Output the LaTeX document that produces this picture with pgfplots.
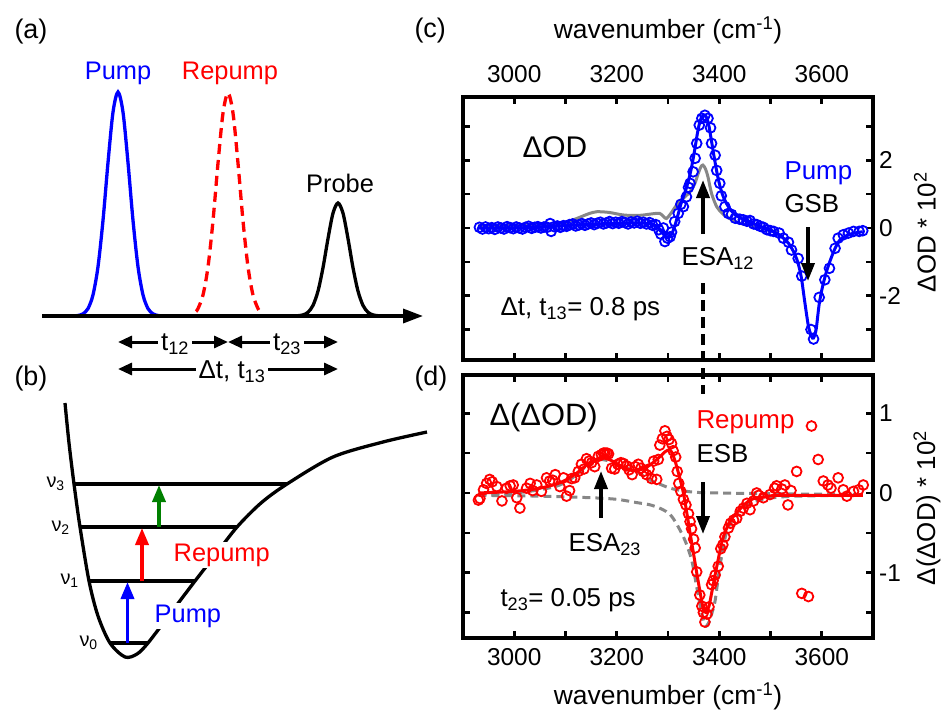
\documentclass[border=0pt]{standalone}
\usepackage{fontspec}
\setmainfont{Liberation Sans}
\usepackage{pgfplots}
\pgfplotsset{compat=1.18}
\usetikzlibrary{arrows.meta}
\definecolor{myblue}{RGB}{0,0,255}
\definecolor{myred}{RGB}{255,0,0}
\definecolor{mygreen}{RGB}{0,128,0}
\definecolor{mygray}{RGB}{135,135,135}
\newcommand\fs[1]{\fontsize{#1}{#1}\selectfont}
\pgfplotsset{
  panel/.style={scale only axis, width=410bp, height=263bp, anchor=south west,
    xmin=2900, xmax=3700,
    axis line style={line width=3.2bp},
    tick style={black, line width=2.6bp},
    tick align=inside, major tick length=7bp, minor tick length=7bp,
    xtick={3000,3200,3400,3600}, minor xtick={3100,3300,3500},
    xtick pos=both, ytick pos=both, yticklabel pos=right,
    yticklabel shift=6bp,
    xticklabel style={font=\fs{24.5}, inner sep=0pt},
    yticklabel style={font=\fs{24.5}, inner sep=0pt, anchor=west},
    /pgf/number format/1000 sep={},
    /pgf/number format/assume math mode=true},
  dat/.style={only marks, mark=o, mark size=4.9bp, mark options={line width=1.8bp}},
}
\tikzset{arr/.style={line width=3.6bp, -{Triangle[length=18bp,width=13bp]}}}
\begin{document}
\begin{tikzpicture}
% ---------- schematic panels (a) and (b)
\begin{axis}[at={(0bp,-711bp)}, anchor=south west, scale only axis, width=440bp, height=711bp,
  xmin=0, xmax=440, ymin=-711, ymax=0, hide axis, clip=false]
\addplot[myblue, line width=3.3bp, smooth] coordinates {(73,-316) (78,-315.5) (83,-313.8) (88,-308.6) (93,-294.9) (98,-266.7) (103,-220.4) (108,-162.6) (113,-112.2) (118,-92) (123,-112.2) (128,-162.6) (133,-220.4) (138,-266.7) (143,-294.9) (148,-308.6) (153,-313.8) (158,-315.5) (163,-316)};
\addplot[myred, line width=3.3bp, dash pattern=on 10bp off 6bp, smooth] coordinates {(196,-311.4) (198,-308.6) (203,-295) (208,-266.9) (213,-220.8) (218,-163.2) (223,-113.1) (228,-93) (233,-113.1) (238,-163.2) (243,-220.8) (248,-266.9) (253,-295) (258,-308.6) (260,-311.4)};
\addplot[black, line width=3.3bp, smooth] coordinates {(293,-316) (298,-315.7) (303,-314.9) (308,-312.3) (313,-305.4) (318,-291.1) (323,-267.7) (328,-238.6) (333,-213.2) (338,-203) (343,-213.2) (348,-238.6) (353,-267.7) (358,-291.1) (363,-305.4) (368,-312.3) (373,-314.9) (378,-315.7) (383,-316)};
\draw[myblue, line width=1bp] (310,-314) -- (364,-314);
\draw[line width=3.4bp, -{Triangle[length=20bp,width=14bp]}] (42,-316) -- (423,-316);
\node[myblue, font=\fs{25.5}, anchor=base] at (118,-80) {Pump};
\node[myred, font=\fs{25.5}, anchor=base] at (230,-80) {Repump};
\node[black, font=\fs{25.5}, anchor=base] at (340,-192) {Probe};
\draw[line width=3bp, {Triangle[length=14bp,width=12bp]}-{Triangle[length=14bp,width=12bp]}] (118,-342) -- (228,-342);
\draw[line width=3bp, {Triangle[length=14bp,width=12bp]}-{Triangle[length=14bp,width=12bp]}] (228,-342) -- (338,-342);
\draw[line width=3bp, {Triangle[length=14bp,width=12bp]}-{Triangle[length=14bp,width=12bp]}] (118,-369) -- (338,-369);
\node[fill=white, inner sep=3bp, font=\fs{26}, anchor=base] at (175,-350) {t\textsubscript{12}};
\node[fill=white, inner sep=3bp, font=\fs{26}, anchor=base] at (287,-350) {t\textsubscript{23}};
\node[fill=white, inner sep=3bp, font=\fs{26}, anchor=base] at (232,-378) {Δt, t\textsubscript{13}};
\node[font=\fs{27}, anchor=base west] at (11,-38.5) {(a)};
\node[font=\fs{27}, anchor=base west] at (11,-385) {(b)};
% potential
\addplot[black, line width=3.3bp, smooth] coordinates {(65,-403) (69,-443) (74,-484) (80,-527) (89,-581) (98,-616) (110,-643) (125,-657) (137,-654) (148,-643) (170,-614) (195,-581) (216,-554) (237,-527) (261,-503) (287,-484) (333,-457) (383,-442) (427,-432)};
\draw[line width=3.3bp] (110,-643) -- (148,-643);
\draw[line width=3.3bp] (89,-581) -- (195,-581);
\draw[line width=3.3bp] (80,-527) -- (237,-527);
\draw[line width=3.3bp] (74,-484) -- (287,-484);
\draw[myblue, line width=3.6bp, -{Triangle[length=17bp,width=13bp]}] (127.5,-643) -- (127.5,-582);
\draw[myred, line width=3.6bp, -{Triangle[length=17bp,width=13bp]}] (142,-581) -- (142,-528);
\draw[mygreen, line width=3.6bp, -{Triangle[length=17bp,width=13bp]}] (159,-527) -- (159,-485);
\node[myblue, fill=white, inner sep=1.5bp, font=\fs{25.5}, anchor=base west] at (153,-622) {Pump};
\node[myred, fill=white, inner sep=1.5bp, font=\fs{25.5}, anchor=base west] at (172,-561) {Repump};
\node[font=\fs{20}, anchor=base west] at (43,-487) {ν\textsubscript{3}};
\node[font=\fs{20}, anchor=base west] at (48,-531) {ν\textsubscript{2}};
\node[font=\fs{20}, anchor=base west] at (57,-584) {ν\textsubscript{1}};
\node[font=\fs{20}, anchor=base west] at (76,-646) {ν\textsubscript{0}};
\end{axis}
% ---------- panel (c)
\begin{axis}[panel, at={(463bp,-360bp)}, ymin=-3.9, ymax=3.87,
  ytick={-2,0,2}, minor ytick={-3,-1,1,3},
  xticklabel pos=upper, xticklabel shift=14bp, xticklabel style={anchor=south}]
\addplot[mygray, line width=3bp, smooth] coordinates {(2930,0.07) (3050,0.08) (3090,0.12) (3120,0.27) (3145,0.42) (3161,0.48) (3185,0.46) (3210,0.39) (3230,0.37) (3250,0.38) (3270,0.42) (3284,0.43) (3292,0.33) (3297,0.28) (3305,0.42) (3317,0.68) (3330,0.88) (3343,1.07) (3352,1.3) (3359,1.61) (3364,1.8) (3368,1.86) (3373,1.75) (3378,1.51) (3385,1.02) (3395,0.63) (3405,0.45) (3414,0.33) (3440,0.14) (3473,0.04) (3495,-0.06) (3515,-0.12)};
\addplot[dat, myblue] coordinates {(2932,0.02) (2938,-0.03) (2944,0.03) (2950,-0.02) (2956,0.01) (2962,-0.04) (2968,0.03) (2974,0.00) (2980,-0.03) (2986,0.04) (2992,0.01) (2998,-0.02) (3004,0.03) (3010,0.00) (3016,-0.03) (3022,0.02) (3028,0.05) (3034,-0.01) (3040,0.02) (3046,0.04) (3052,0.00) (3058,0.03) (3064,0.02) (3070,0.13) (3072,-0.10) (3078,0.04) (3084,0.06) (3090,0.02) (3096,0.07) (3102,0.05) (3108,0.10) (3114,0.12) (3120,0.06) (3126,0.09) (3132,0.13) (3138,0.08) (3144,0.12) (3150,0.15) (3156,0.10) (3162,0.14) (3168,0.17) (3174,0.12) (3180,0.15) (3186,0.19) (3192,0.13) (3198,0.17) (3204,0.14) (3210,0.19) (3216,0.16) (3222,0.12) (3228,0.18) (3234,0.15) (3240,0.20) (3246,0.14) (3252,0.17) (3258,0.12) (3264,0.16) (3270,0.08) (3276,0.10) (3282,-0.05) (3286,-0.18) (3291,0.00) (3294,-0.40) (3299,-0.30) (3304,-0.26) (3307,-0.12) (3313,0.19) (3320,0.43) (3325,0.70) (3330,0.63) (3336,0.92) (3340,1.20) (3343,1.32) (3349,1.66) (3353,2.06) (3356,2.50) (3361,3.04) (3366,3.24) (3372,3.33) (3378,3.24) (3383,2.96) (3385,2.50) (3392,2.15) (3395,1.70) (3401,1.32) (3404,0.95) (3411,0.63) (3418,0.43) (3424,0.40) (3431,0.29) (3440,0.26) (3447,0.24) (3454,0.20) (3460,0.22) (3467,0.12) (3473,0.10) (3480,0.05) (3486,0.02) (3493,-0.05) (3500,-0.08) (3506,-0.10) (3517,-0.15) (3525,-0.30) (3535,-0.42) (3541,-0.65) (3554,-0.90) (3561,-1.42) (3579,-3.00) (3584,-3.28) (3595,-2.05) (3606,-1.53) (3615,-1.19) (3626,-0.60) (3632,-0.30) (3642,-0.20) (3652,-0.15) (3662,-0.10) (3673,-0.10) (3680,-0.08)};
\addplot[myblue, line width=3bp, smooth] coordinates {(2930,0.0) (3000,0.0) (3060,0.03) (3100,0.07) (3150,0.11) (3200,0.14) (3240,0.15) (3262,0.13) (3276,0.07) (3286,-0.08) (3295,-0.25) (3302,-0.28) (3308,-0.15) (3314,0.1) (3320,0.42) (3326,0.75) (3333,1.05) (3340,1.4) (3346,1.8) (3352,2.3) (3358,2.85) (3363,3.18) (3368,3.32) (3374,3.3) (3379,3.08) (3384,2.65) (3390,2.1) (3396,1.6) (3402,1.2) (3408,0.92) (3415,0.7) (3423,0.52) (3432,0.38) (3445,0.27) (3460,0.17) (3473,0.09) (3486,0.01) (3500,-0.07) (3514,-0.17) (3525,-0.3) (3535,-0.45) (3545,-0.7) (3553,-1.0) (3560,-1.45) (3567,-2.2) (3574,-2.9) (3580,-3.2) (3584,-3.25) (3589,-3.0) (3595,-2.25) (3602,-1.7) (3610,-1.25) (3618,-0.9) (3626,-0.6) (3634,-0.38) (3645,-0.25) (3660,-0.16) (3680,-0.11)};
\end{axis}
% ---------- panel (d)
\begin{axis}[panel, at={(463bp,-638bp)}, ymin=-1.82, ymax=1.48,
  ytick={-1,0,1}, minor ytick={-1.5,-0.5,0.5},
  xticklabel pos=lower, xticklabel shift=10bp, xticklabel style={anchor=north}]
\addplot[mygray, line width=3bp, dash pattern=on 8bp off 5bp, smooth] coordinates {(2930,-0.02) (3000,0.0) (3050,0.04) (3089,0.10) (3120,0.22) (3145,0.36) (3167,0.42) (3190,0.39) (3210,0.33) (3238,0.27) (3260,0.18) (3284,0.11) (3310,0.05) (3350,0.01) (3400,0.0) (3500,-0.01) (3680,-0.02)};
\addplot[mygray, line width=3bp, dash pattern=on 8bp off 5bp, smooth] coordinates {(2930,-0.03) (3050,-0.04) (3150,-0.06) (3200,-0.08) (3238,-0.12) (3271,-0.16) (3304,-0.27) (3330,-0.55) (3346,-0.84) (3356,-1.18) (3366,-1.51) (3373,-1.67) (3380,-1.62) (3386,-1.5) (3392,-1.35) (3401,-0.93) (3414,-0.5) (3434,-0.25) (3460,-0.13) (3492,-0.07) (3550,-0.04) (3680,-0.03)};
\addplot[dat, myred] coordinates {(2930,-0.09) (2933,-0.07) (2940,0.04) (2946,0.12) (2952,0.17) (2957,0.14) (2966,0.08) (2976,-0.10) (2985,0.06) (2992,0.09) (2998,0.10) (3005,-0.06) (3011,-0.19) (3024,0.06) (3031,0.12) (3036,0.03) (3044,0.10) (3053,0.02) (3063,0.19) (3069,0.15) (3075,0.16) (3080,0.23) (3089,0.08) (3096,0.19) (3102,-0.04) (3108,0.03) (3112,0.18) (3118,0.19) (3125,0.27) (3131,0.36) (3136,0.30) (3141,0.43) (3146,0.40) (3151,0.38) (3157,0.33) (3164,0.46) (3170,0.48) (3174,0.50) (3177,0.50) (3181,0.50) (3184,0.49) (3190,0.31) (3196,0.30) (3202,0.36) (3208,0.38) (3213,0.37) (3219,0.34) (3224,0.29) (3230,0.23) (3236,0.33) (3242,0.36) (3247,0.31) (3252,0.27) (3258,0.23) (3263,0.30) (3268,0.18) (3272,0.40) (3278,0.17) (3281,0.42) (3284,0.60) (3289,0.68) (3294,0.78) (3298,0.71) (3302,0.67) (3307,0.62) (3310,0.53) (3315,0.45) (3318,0.27) (3321,0.12) (3325,0.02) (3330,-0.08) (3335,-0.15) (3340,-0.26) (3343,-0.36) (3346,-0.45) (3350,-0.58) (3353,-0.69) (3356,-0.99) (3362,-1.28) (3366,-1.42) (3369,-1.50) (3372,-1.62) (3376,-1.52) (3380,-1.43) (3385,-1.15) (3388,-1.10) (3392,-1.03) (3398,-0.92) (3403,-0.70) (3407,-0.65) (3411,-0.55) (3418,-0.44) (3422,-0.38) (3428,-0.34) (3434,-0.32) (3441,-0.23) (3447,-0.19) (3454,-0.13) (3460,-0.21) (3467,-0.10) (3473,0.00) (3477,-0.03) (3486,-0.06) (3499,-0.02) (3508,0.06) (3512,0.09) (3522,0.05) (3528,0.10) (3534,-0.15) (3540,0.03) (3551,0.27) (3561,-1.26) (3574,-1.30) (3580,0.84) (3593,0.42) (3603,0.15) (3612,0.10) (3618,0.06) (3632,0.19) (3642,0.04) (3649,-0.04) (3662,0.02) (3672,0.04) (3681,0.10)};
\addplot[myred, line width=3bp, smooth] coordinates {(2930,0.0) (3000,0.02) (3050,0.06) (3090,0.13) (3120,0.24) (3145,0.37) (3167,0.44) (3185,0.42) (3205,0.35) (3225,0.29) (3240,0.28) (3260,0.33) (3280,0.43) (3295,0.52) (3304,0.54) (3310,0.47) (3317,0.33) (3330,0.0) (3343,-0.5) (3356,-1.0) (3368,-1.43) (3374,-1.5) (3380,-1.42) (3385,-1.26) (3395,-0.93) (3408,-0.55) (3427,-0.3) (3460,-0.09) (3490,-0.05) (3520,-0.03) (3680,-0.03)};
\end{axis}
% ---------- annotations
\node[font=\fs{27}, anchor=base west] at (411bp,-37bp) {(c)};
\node[font=\fs{27}, anchor=base west] at (411bp,-385bp) {(d)};
\node[font=\fs{26.5}] at (668bp,-30bp) {wavenumber (cm\textsuperscript{-1})};
\node[font=\fs{26.5}] at (668bp,-696bp) {wavenumber (cm\textsuperscript{-1})};
\node[font=\fs{26}, rotate=90] at (925bp,-232bp) {ΔOD * 10\textsuperscript{2}};
\node[font=\fs{26}, rotate=90] at (927bp,-508bp) {Δ(ΔOD) * 10\textsuperscript{2}};
\node[font=\fs{30}, anchor=base west] at (519bp,-157bp) {ΔOD};
\node[font=\fs{26}, anchor=base west, myblue] at (781bp,-179bp) {Pump};
\node[font=\fs{26}, anchor=base west] at (781bp,-212bp) {GSB};
\node[font=\fs{26}, anchor=base west] at (678bp,-265bp) {ESA\textsubscript{12}};
\node[font=\fs{26}, anchor=base west] at (497bp,-315bp) {Δt, t\textsubscript{13}= 0.8 ps};
\node[font=\fs{31}, anchor=base west] at (486bp,-425bp) {Δ(ΔOD)};
\node[font=\fs{26}, anchor=base west, myred] at (693bp,-428bp) {Repump};
\node[font=\fs{26}, anchor=base west] at (693bp,-462bp) {ESB};
\node[font=\fs{26}, anchor=base west] at (565bp,-551bp) {ESA\textsubscript{23}};
\node[font=\fs{26}, anchor=base west] at (497bp,-606bp) {t\textsubscript{23}= 0.05 ps};
\draw[arr] (703bp,-234bp) -- (703bp,-180bp);
\draw[arr] (808bp,-227bp) -- (808bp,-281bp);
\draw[arr] (703bp,-482bp) -- (703bp,-534bp);
\draw[arr] (601bp,-518bp) -- (601bp,-471bp);
\draw[line width=3.4bp, dash pattern=on 11bp off 6bp] (703bp,-283bp) -- (703bp,-394bp);
\pgfresetboundingbox
\path[use as bounding box] (0bp,0bp) rectangle (947bp,-711bp);
\end{tikzpicture}
\end{document}
